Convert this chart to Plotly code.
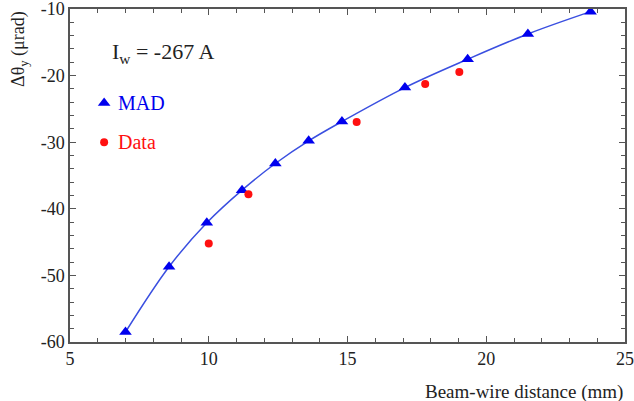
import plotly.graph_objects as go

mad_x = [7.0, 8.57, 9.93, 11.2, 12.4, 13.6, 14.8, 17.07, 19.33, 21.5, 23.76]
mad_y = [-58.5, -48.7, -42.1, -37.2, -33.2, -29.8, -26.9, -21.8, -17.55, -13.75, -10.4]
data_x = [10.0, 11.43, 15.33, 17.8, 19.03]
data_y = [-45.2, -37.8, -26.97, -21.26, -19.46]
x_ticks = [5, 10, 15, 20, 25]
y_ticks = [-60, -50, -40, -30, -20, -10]

FONT = "Liberation Serif"
AX = "#555555"

fig = go.Figure()
fig.add_trace(go.Scatter(x=mad_x, y=mad_y, mode="lines", line=dict(color="#3a4fe0", width=1.5, shape="spline"),
                         showlegend=False, hoverinfo="skip"))
fig.add_trace(go.Scatter(x=mad_x, y=mad_y, mode="markers",
                         marker=dict(symbol="triangle-up", size=11, color="#0000ee"), showlegend=False))
fig.add_trace(go.Scatter(x=data_x, y=data_y, mode="markers",
                         marker=dict(symbol="circle", size=8, color="#ff1010"), showlegend=False))
# legend markers
fig.add_trace(go.Scatter(x=[6.23], y=[-24.1], mode="markers",
                         marker=dict(symbol="triangle-up", size=11, color="#0000ee"), showlegend=False))
fig.add_trace(go.Scatter(x=[6.23], y=[-30.0], mode="markers",
                         marker=dict(symbol="circle", size=8, color="#ff1010"), showlegend=False))

axis_common = dict(showline=True, linecolor=AX, linewidth=1.5, mirror="ticks", ticks="inside",
                   tickcolor=AX, tickwidth=1.2, ticklen=6, showgrid=False, zeroline=False,
                   automargin=False, ticklabeloverflow="allow",
                   tickfont=dict(family=FONT, size=18, color="#222222"))
fig.update_xaxes(range=[5, 25], tickmode="array", tickvals=x_ticks, ticktext=[str(v) for v in x_ticks],
                 minor=dict(ticks="inside", dtick=1, tick0=5, ticklen=4, tickcolor=AX, tickwidth=1, showgrid=False),
                 **axis_common)
fig.update_yaxes(range=[-60, -10], tickmode="array", tickvals=y_ticks, ticktext=[str(v) for v in y_ticks],
                 minor=dict(ticks="inside", dtick=2, tick0=-60, ticklen=4, tickcolor=AX, tickwidth=1, showgrid=False),
                 **axis_common)

fig.add_annotation(x=1, y=-0.11, xref="paper", yref="paper", text="Beam-wire distance (mm)",
                   showarrow=False, xanchor="right", yanchor="top",
                   font=dict(family=FONT, size=19, color="#222222"))
fig.add_annotation(x=-0.092, y=1.0, xref="paper", yref="paper", text="Δθ<sub>y</sub> (μrad)",
                   showarrow=False, xanchor="center", yanchor="top", textangle=-90,
                   font=dict(family=FONT, size=18, color="#222222"))
fig.add_annotation(x=6.45, y=-16.6, text="I<sub>w</sub> = -267 A", showarrow=False,
                   xanchor="left", yanchor="middle", font=dict(family=FONT, size=22, color="#222222"))
fig.add_annotation(x=6.65, y=-24.1, text="MAD", showarrow=False,
                   xanchor="left", yanchor="middle", font=dict(family=FONT, size=20, color="#0000ee"))
fig.add_annotation(x=6.65, y=-30.0, text="Data", showarrow=False,
                   xanchor="left", yanchor="middle", font=dict(family=FONT, size=20, color="#ff1010"))

fig.update_layout(width=634, height=401, margin=dict(l=70, r=9, t=9, b=59),
                  plot_bgcolor="white", paper_bgcolor="white", showlegend=False)
fig.write_html("out.html", config={"displayModeBar": False},
               post_script="document.body.style.margin='0';")
